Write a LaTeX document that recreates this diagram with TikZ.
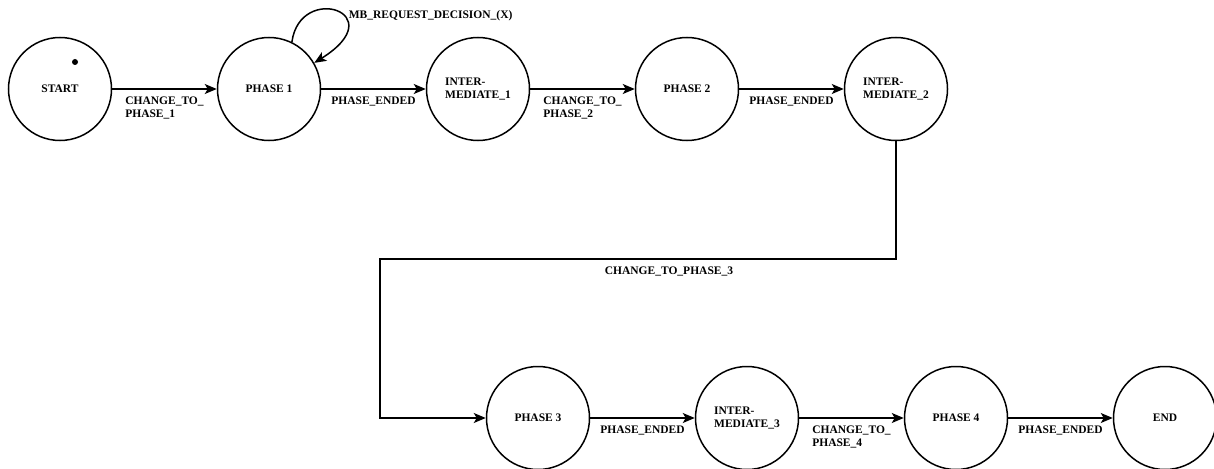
\documentclass[tikz,border=0pt]{standalone}
\usepackage{fontspec}
\setmainfont{Liberation Serif}
\usetikzlibrary{positioning,arrows.meta}

\begin{document}
\begin{tikzpicture}[x=1pt,y=-1pt,node distance=104.5pt,
  st/.style={circle,draw,line width=1.5pt,minimum size=103pt,inner sep=0pt,align=left,font=\fontsize{11.5}{13.5}\selectfont\bfseries},
  lab/.style={align=left,inner sep=2pt,yshift=-5pt,font=\fontsize{11.5}{13.5}\selectfont\bfseries},
  arr/.style={line width=1.5pt,-{Stealth[length=12pt,width=10pt,inset=3pt]}}]
\useasboundingbox (0,0) rectangle (1214,468);
\node[st] (start) at (60,89) {START};
\node[st,right=of start] (p1) {PHASE 1};
\node[st,right=of p1] (i1) {INTER-\\MEDIATE\_1};
\node[st,right=of i1] (p2) {PHASE 2};
\node[st,right=of p2] (i2) {INTER-\\MEDIATE\_2};
\node[st] (p3) at (538,418) {PHASE 3};
\node[st,right=of p3] (i3) {INTER-\\MEDIATE\_3};
\node[st,right=of i3] (p4) {PHASE 4};
\node[st,right=of p4] (stop) {END};
\fill (75,62) circle (3pt);
\coordinate (bend) at (380,259);
\draw[arr] (start) -- node[lab,below]{CHANGE\_TO\_\\PHASE\_1} (p1);
\draw[arr] (p1.64) .. controls +(8,-60) and +(80,-50) .. node[lab,pos=0.55,anchor=west,xshift=6pt,yshift=3pt]{MB\_REQUEST\_DECISION\_(X)} (p1.30);
\draw[arr] (p1) -- node[lab,below]{PHASE\_ENDED} (i1);
\draw[arr] (i1) -- node[lab,below]{CHANGE\_TO\_\\PHASE\_2} (p2);
\draw[arr] (p2) -- node[lab,below]{PHASE\_ENDED} (i2);
\draw[arr] (i2.south) |- node[lab,below,pos=0.72]{CHANGE\_TO\_PHASE\_3} (bend) |- (p3.west);
\draw[arr] (p3) -- node[lab,below]{PHASE\_ENDED} (i3);
\draw[arr] (i3) -- node[lab,below]{CHANGE\_TO\_\\PHASE\_4} (p4);
\draw[arr] (p4) -- node[lab,below]{PHASE\_ENDED} (stop);
\end{tikzpicture}
\end{document}
